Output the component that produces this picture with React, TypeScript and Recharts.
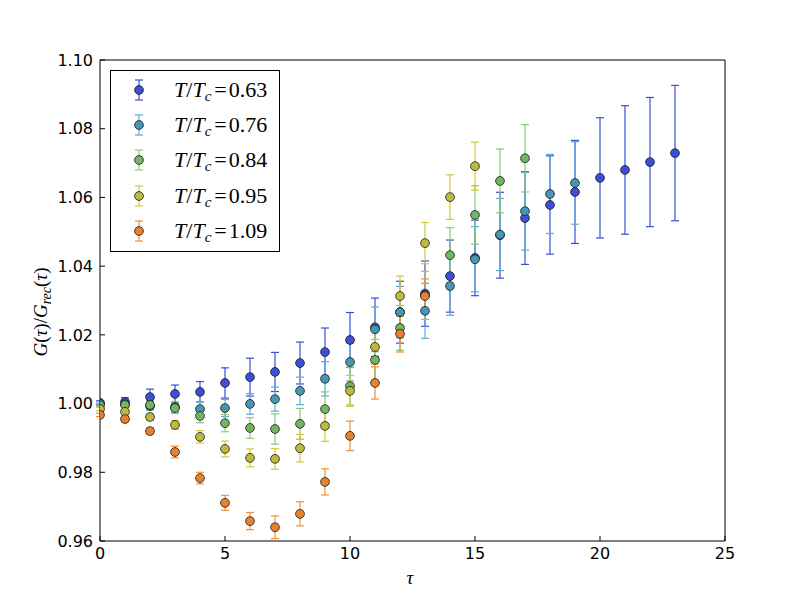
import React from 'react';
import { ScatterChart, Scatter, XAxis, YAxis, ErrorBar } from 'recharts';

// tau values (imaginary time steps)
const TAU = [0, 1, 2, 3, 4, 5, 6, 7, 8, 9, 10, 11, 12, 13, 14, 15, 16, 17, 18, 19, 20, 21, 22, 23];

// G(tau)/G_rec(tau) for each temperature
const G_063 = [1.0002, 1.0005, 1.0019, 1.0028, 1.0034, 1.0060, 1.0077, 1.0092, 1.0118, 1.0150, 1.0185, 1.0222, 1.0266, 1.0320, 1.0371, 1.0424, 1.0490, 1.0540, 1.0578, 1.0616, 1.0657, 1.0680, 1.0703, 1.0729];
const ERR_063 = [0.0006, 0.0012, 0.0023, 0.0026, 0.0030, 0.0044, 0.0055, 0.0057, 0.0061, 0.0070, 0.0080, 0.0085, 0.0090, 0.0095, 0.0105, 0.0110, 0.0125, 0.0135, 0.0143, 0.0150, 0.0175, 0.0187, 0.0188, 0.0197];

const G_076 = [1.0000, 0.9998, 0.9993, 0.9990, 0.9984, 0.9987, 0.9999, 1.0013, 1.0037, 1.0072, 1.0121, 1.0216, 1.0266, 1.0270, 1.0342, 1.0420, 1.0492, 1.0560, 1.0610, 1.0642];
const ERR_076 = [0.0005, 0.0008, 0.0012, 0.0015, 0.0020, 0.0025, 0.0030, 0.0035, 0.0040, 0.0050, 0.0055, 0.0065, 0.0075, 0.0080, 0.0085, 0.0095, 0.0105, 0.0113, 0.0115, 0.0120];

const G_084 = [0.9995, 0.9996, 0.9996, 0.9987, 0.9964, 0.9943, 0.9929, 0.9926, 0.9941, 0.9984, 1.0051, 1.0127, 1.0220, 1.0315, 1.0432, 1.0549, 1.0648, 1.0714];
const ERR_084 = [0.0005, 0.0008, 0.0012, 0.0016, 0.0020, 0.0025, 0.0030, 0.0044, 0.0045, 0.0050, 0.0055, 0.0060, 0.0065, 0.0070, 0.0080, 0.0085, 0.0093, 0.0098];

const G_095 = [0.9984, 0.9976, 0.9961, 0.9938, 0.9903, 0.9868, 0.9842, 0.9839, 0.9870, 0.9935, 1.0037, 1.0165, 1.0313, 1.0467, 1.0601, 1.0691];
const ERR_095 = [0.0005, 0.0008, 0.0010, 0.0013, 0.0018, 0.0023, 0.0026, 0.0030, 0.0040, 0.0045, 0.0045, 0.0050, 0.0058, 0.0060, 0.0065, 0.0070];

const G_109 = [0.9967, 0.9955, 0.9920, 0.9859, 0.9783, 0.9711, 0.9658, 0.9640, 0.9679, 0.9772, 0.9906, 1.0060, 1.0203, 1.0313];
const ERR_109 = [0.0005, 0.0008, 0.0009, 0.0017, 0.0017, 0.0022, 0.0025, 0.0033, 0.0035, 0.0038, 0.0043, 0.0047, 0.0053, 0.0050];

const X_TICKS = [0, 5, 10, 15, 20, 25];
const Y_TICKS = [0.96, 0.98, 1.0, 1.02, 1.04, 1.06, 1.08, 1.1];

const SERIES = [
    { label: '0.63', values: G_063, errs: ERR_063, color: '#3c4fd6', bar: '#3b4ed9' },
    { label: '0.76', values: G_076, errs: ERR_076, color: '#4796b2', bar: '#5eabd2' },
    { label: '0.84', values: G_084, errs: ERR_084, color: '#74b565', bar: '#88cb72' },
    { label: '0.95', values: G_095, errs: ERR_095, color: '#bfb93d', bar: '#d4c63c' },
    { label: '1.09', values: G_109, errs: ERR_109, color: '#e6822f', bar: '#f08f36' },
];

const tickFont = { fill: '#000', fontSize: 16, fontFamily: 'DejaVu Sans' };
const serif = 'Liberation Serif, DejaVu Serif, serif';

const Marker = ({ color, bar }: { color: string; bar: string }) => (
    <svg width={20} height={26} style={{ display: 'block' }}>
        <line x1={10} y1={3} x2={10} y2={23} stroke={bar} strokeWidth={1.2} />
        <line x1={6} y1={3} x2={14} y2={3} stroke={bar} strokeWidth={1.2} />
        <line x1={6} y1={23} x2={14} y2={23} stroke={bar} strokeWidth={1.2} />
        <circle cx={10} cy={13} r={4.4} fill={color} stroke="#1a1a1a" strokeWidth={0.8} />
    </svg>
);

export default function App() {
    const data = SERIES.map(s => s.values.map((v, i) => ({ tau: TAU[i], g: v, err: s.errs[i] })));

    return (
        <div style={{ position: 'absolute', left: 0, top: 0, width: 800, height: 600, background: '#fff' }}>
            <ScatterChart width={800} height={600} margin={{ top: 59, right: 74, bottom: 0, left: 0 }}>
                <XAxis
                    type="number"
                    dataKey="tau"
                    domain={[0, 25]}
                    ticks={X_TICKS}
                    allowDataOverflow
                    height={59}
                    tickSize={-5}
                    tickMargin={12}
                    tick={tickFont}
                    axisLine={{ stroke: '#000' }}
                    tickLine={{ stroke: '#000' }}
                />
                <XAxis
                    xAxisId="top"
                    orientation="top"
                    type="number"
                    domain={[0, 25]}
                    ticks={X_TICKS}
                    allowDataOverflow
                    height={1}
                    tickSize={-5}
                    tick={false}
                    axisLine={{ stroke: '#000' }}
                    tickLine={{ stroke: '#000' }}
                />
                <YAxis
                    type="number"
                    dataKey="g"
                    domain={[0.96, 1.1]}
                    ticks={Y_TICKS}
                    allowDataOverflow
                    width={100}
                    tickSize={-5}
                    tickMargin={12}
                    tick={tickFont}
                    tickFormatter={(v: number) => v.toFixed(2)}
                    axisLine={{ stroke: '#000' }}
                    tickLine={{ stroke: '#000' }}
                />
                <YAxis
                    yAxisId="right"
                    orientation="right"
                    type="number"
                    domain={[0.96, 1.1]}
                    ticks={Y_TICKS}
                    allowDataOverflow
                    width={1}
                    tickSize={-5}
                    tick={false}
                    axisLine={{ stroke: '#000' }}
                    tickLine={{ stroke: '#000' }}
                />
                {SERIES.map((s, k) => (
                    <Scatter
                        key={s.label}
                        data={data[k]}
                        isAnimationActive={false}
                        shape={(p: any) => (
                            <circle cx={p.cx} cy={p.cy} r={4.4} fill={s.color} stroke="#1a1a1a" strokeWidth={0.8} />
                        )}
                    >
                        <ErrorBar dataKey="err" direction="y" width={4} stroke={s.bar} strokeWidth={1.2} />
                    </Scatter>
                ))}
            </ScatterChart>

            {/* axis titles */}
            <svg width={800} height={600} style={{ position: 'absolute', left: 0, top: 0, pointerEvents: 'none' }}>
                <text x={410} y={584} textAnchor="middle" fontFamily={serif} fontSize={19} fontStyle="italic">τ</text>
                <text transform="translate(47,312) rotate(-90)" textAnchor="middle" fontFamily={serif} fontSize={19}>
                    <tspan fontStyle="italic">G</tspan>
                    <tspan>(</tspan>
                    <tspan fontStyle="italic">τ</tspan>
                    <tspan>)/</tspan>
                    <tspan fontStyle="italic">G</tspan>
                    <tspan fontStyle="italic" fontSize={14} dy={4}>rec</tspan>
                    <tspan dy={-4}>(</tspan>
                    <tspan fontStyle="italic">τ</tspan>
                    <tspan>)</tspan>
                </text>
            </svg>

            {/* legend */}
            <div style={{
                position: 'absolute', left: 110, top: 70, width: 170, height: 182,
                boxSizing: 'border-box', border: '1px solid #000', background: '#fff'
            }}>
                {SERIES.map((s, i) => (
                    <div key={s.label} style={{
                        position: 'absolute', left: 18, top: 6 + i * 35.2, height: 26,
                        display: 'flex', alignItems: 'center'
                    }}>
                        <Marker color={s.color} bar={s.bar} />
                        <span style={{ marginLeft: 25, fontFamily: serif, fontSize: 22, lineHeight: '26px', whiteSpace: 'nowrap' }}>
                            <i>T</i>/<i>T</i><sub style={{ fontSize: 15, fontStyle: 'italic', verticalAlign: '-4px', lineHeight: 0 }}>c</sub>
                            <span style={{ margin: '0 2px 0 3px' }}>=</span>{s.label}
                        </span>
                    </div>
                ))}
            </div>
        </div>
    );
}
